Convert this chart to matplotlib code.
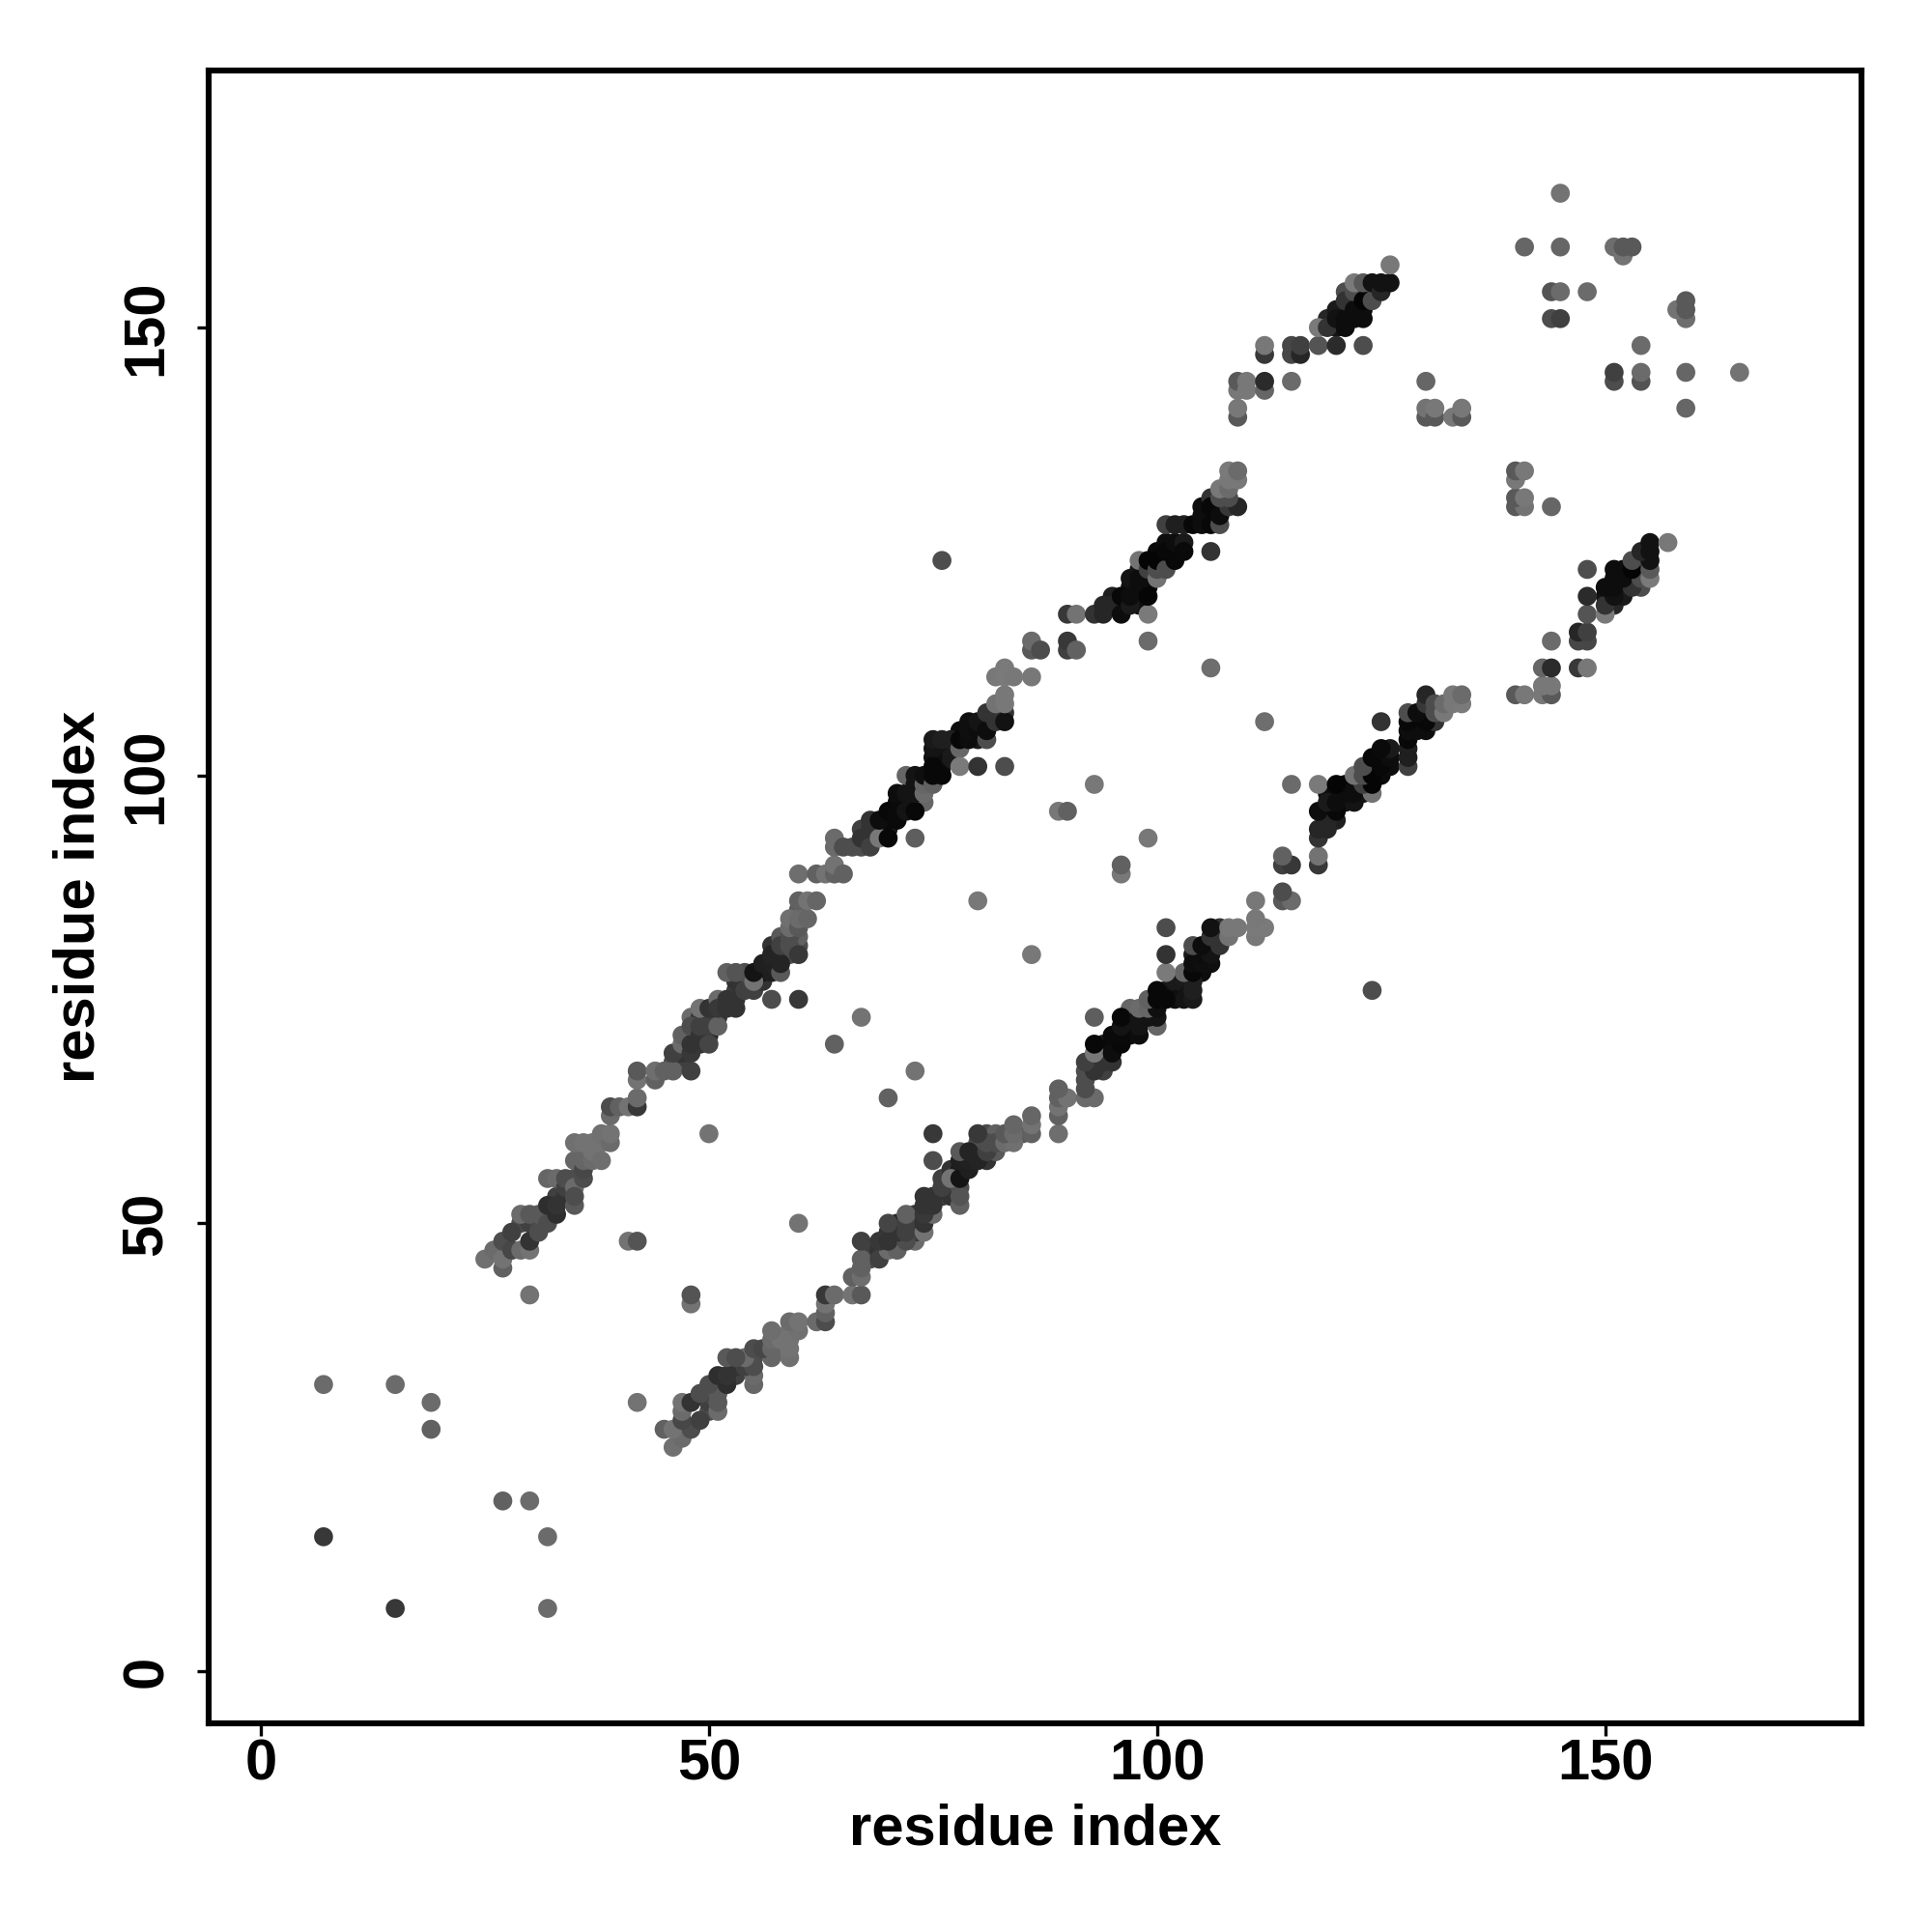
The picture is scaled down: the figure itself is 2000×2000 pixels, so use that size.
import matplotlib
matplotlib.use("Agg")
import matplotlib.pyplot as plt

res_i = [25,26,27,27,27,28,28,29,29,30,30,30,31,31,32,32,33,33,32,33,34,34,34,35,35,35,35,35,36,36,36,36,37,37,37,38,38,39,39,39,39,40,41,42,42,42,42,41,42,
         44,44,45,46,46,47,47,48,48,48,48,49,49,49,50,50,50,51,51,51,52,52,53,53,54,54,52,53,55,55,56,57,57,57,58,58,58,59,59,59,59,60,60,60,61,60,61,62,
         60,62,63,64,64,65,64,64,65,66,67,67,68,68,68,69,69,70,70,71,71,72,73,73,71,72,72,73,73,73,74,74,74,75,75,75,76,75,76,77,78,78,79,79,80,80,81,81,81,82,83,82,83,83,
         78,80,83,82,83,83,84,86,86,86,87,90,90,91,99,90,91,93,94,94,95,96,96,97,97,97,98,98,98,99,99,99,99,100,100,100,101,101,102,102,103,103,106,
         101,102,103,104,105,105,106,106,107,107,108,109,107,108,107,108,108,108,109,109,109,109,109,109,110,110,112,112,112,112,115,115,115,116,116,118,120,123,
         118,119,120,121,121,122,123,121,122,122,122,123,123,124,124,125,125,126,126,130,130,130,131,131,133,134,134,
         141,145,151,152,152,153,144,145,148,144,145,145,
         7,7,15,19,19,30,50,57,60,64,67,76,80,89,90,93,106]
res_j = [46,47,45,46,48,47,49,47,51,47,48,51,49,51,50,52,51,52,55,55,53,54,55,52,54,53,57,59,55,56,57,59,57,59,58,57,60,59,60,62,63,63,63,63,64,66,67,48,48,
         66,67,67,67,69,70,71,67,69,70,72,71,72,74,70,72,74,72,75,74,74,75,74,75,76,78,78,78,77,78,79,78,79,80,78,79,81,81,82,83,84,80,83,84,84,86,86,86,
         89,89,89,89,90,89,92,93,92,92,92,93,92,94,95,93,95,93,96,95,96,96,96,93,98,98,100,98,99,100,98,99,100,99,100,101,100,104,104,104,103,104,104,105,105,106,104,105,107,106,106,108,108,109,
         101,101,101,111,111,112,111,111,114,115,114,114,115,114,115,118,118,118,118,119,119,118,120,119,120,122,121,122,124,118,120,123,124,122,123,124,123,125,124,126,126,125,125,
         128,128,128,128,128,129,128,130,128,129,130,130,131,131,132,132,133,134,133,134,140,141,143,144,143,144,143,144,147,148,144,147,148,147,148,148,148,148,
         150,150,151,150,151,151,151,153,152,154,155,153,155,153,155,154,155,155,157,144,140,141,140,141,140,140,141,
         159,159,159,158,159,159,154,154,154,151,151,165,
         15,32,32,27,30,42,60,75,75,70,73,124,86,96,96,99,112]
shade = [.44,.42,.38,.45,.30,.28,.25,.42,.42,.45,.20,.35,.30,.35,.30,.18,.18,.20,.40,.42,.20,.25,.30,.35,.42,.30,.40,.44,.30,.28,.40,.45,.42,.45,.45,.43,.44,.42,.45,.42,.30,.38,.45,.22,.42,.45,.35,.45,.33,
         .38,.43,.38,.38,.25,.42,.38,.25,.22,.20,.30,.20,.25,.45,.27,.25,.20,.38,.42,.22,.20,.20,.20,.20,.25,.30,.38,.33,.45,.08,.12,.12,.13,.14,.35,.14,.25,.30,.30,.42,.44,.22,.35,.42,.40,.38,.45,.40,
         .43,.38,.45,.38,.45,.38,.42,.42,.30,.30,.30,.20,.25,.20,.20,.47,.05,.03,.03,.04,.04,.08,.03,.37,.05,.08,.40,.08,.08,.08,.42,.40,.06,.38,.03,.03,.03,.10,.12,.12,.40,.03,.05,.06,.05,.08,.30,.05,.20,.20,.07,.45,.47,.47,
         .48,.20,.30,.47,.48,.48,.47,.47,.35,.42,.30,.25,.22,.38,.42,.22,.45,.20,.15,.15,.15,.05,.03,.10,.05,.08,.05,.05,.45,.48,.02,.25,.02,.45,.30,.02,.30,.03,.03,.05,.10,.04,.20,
         .25,.12,.12,.03,.05,.05,.03,.03,.30,.05,.22,.15,.30,.30,.47,.42,.47,.48,.47,.42,.35,.47,.47,.35,.47,.47,.40,.17,.22,.47,.42,.28,.28,.15,.25,.33,.17,.30,
         .48,.20,.07,.05,.05,.05,.05,.20,.05,.30,.48,.02,.35,.30,.07,.15,.07,.07,.47,.40,.35,.45,.35,.47,.47,.35,.47,
         .40,.40,.43,.45,.35,.35,.33,.42,.42,.30,.25,.45,
         .22,.42,.42,.38,.42,.45,.45,.30,.22,.38,.45,.30,.47,.47,.38,.47,.43]

# Further contacts inside the dense stretches of the band, drawn beneath the others
dense_i = [29,30,31,32,33,35,38,36,46,47,47,48,48,49,49,50,50,51,53,53,54,55,56,56,57,58,58,59,60,60,60,67,68,
           69,70,70,71,72,73,74,76,76,76,77,75,75,78,79,80,81,82,83,
           95,96,97,98,98,99,99,98,100,101,101,102,105,106,106,107,
           119,120,120,121,122,123,123,124,121]
dense_j = [50,50,50,51,53,55,59,58,68,68,69,71,73,70,73,71,73,73,76,77,77,76,77,78,81,80,82,80,81,82,85,94,93,
           94,94,95,97,97,97,97,101,102,103,102,102,103,105,106,104,106,107,107,
           120,119,121,119,120,121,122,123,125,124,126,125,130,129,131,130,
           151,150,152,152,153,152,154,154,154]
dense_shade = [.30,.25,.28,.22,.25,.30,.45,.45,.30,.25,.20,.20,.42,.20,.22,.15,.20,.20,.25,.20,.20,.25,.20,.10,.20,.15,.35,.30,.30,.38,.35,.25,.25,
               .20,.10,.04,.05,.05,.08,.40,.10,.06,.08,.10,.06,.08,.05,.06,.10,.08,.15,.20,
               .12,.08,.07,.05,.05,.03,.03,.08,.04,.02,.05,.04,.05,.03,.20,.20,
               .15,.08,.10,.10,.05,.06,.12,.30,.30]

axis_ticks = [0, 50, 100, 150]
x_title = "residue index"
y_title = "residue index"

plt.rcParams["font.family"] = ["Liberation Sans", "DejaVu Sans"]
plt.rcParams["font.weight"] = "bold"

fig = plt.figure(figsize=(10, 10), dpi=200, facecolor="white")
ax = fig.add_axes([216/2000, 216/2000, (1927-216)/2000, (1784-73)/2000])

assert len(res_i) == len(res_j) == len(shade), (len(res_i), len(res_j), len(shade))
assert len(dense_i) == len(dense_j) == len(dense_shade), (len(dense_i), len(dense_j), len(dense_shade))

for xs, ys, gs in [(dense_i, dense_j, dense_shade), (dense_j, dense_i, dense_shade),
                   (res_i, res_j, shade), (res_j, res_i, shade)]:
    ax.scatter(xs, ys, s=50, c=[(g, g, g) for g in gs], linewidths=0, zorder=3)

ax.set_xlim(-5.82, 178.6)
ax.set_ylim(-5.83, 178.7)
ax.set_xticks(axis_ticks)
ax.set_yticks(axis_ticks)
ax.tick_params(axis="both", length=4.5, width=1.2, labelsize=21.5)
ax.tick_params(axis="x", pad=1)
ax.tick_params(axis="y", pad=8.5)
for lab in ax.get_yticklabels():
    lab.set_rotation(90)
    lab.set_va("center")
for s in ax.spines.values():
    s.set_linewidth(2.2)
ax.set_xlabel(x_title, fontsize=21.5, fontweight="bold", labelpad=4.5)
ax.set_ylabel(y_title, fontsize=21.5, fontweight="bold", labelpad=5.5)
fig.savefig("out.png", dpi=200, facecolor="white")
